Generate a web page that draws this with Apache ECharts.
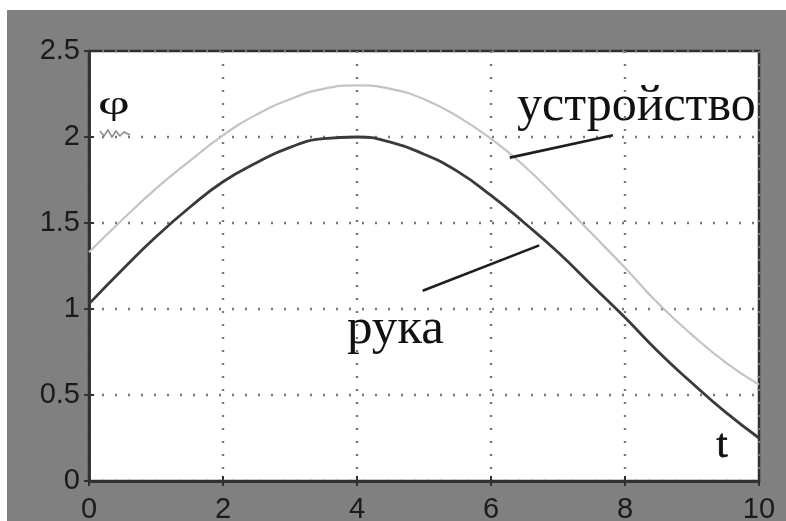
<!DOCTYPE html>
<html>
<head>
<meta charset="utf-8">
<script src="https://cdn.jsdelivr.net/npm/echarts@6/dist/echarts.min.js"></script>
<style>
  html, body { margin: 0; padding: 0; background: #ffffff; }
  #chart { width: 786px; height: 521px; }
</style>
</head>
<body>
<div id="chart"></div>
<script>
// time samples, t
const times = [0, 0.5, 1, 1.5, 2, 2.5, 3, 3.5, 4, 4.5, 5, 5.5, 6, 6.5, 7, 7.5, 8, 8.5, 9, 9.5, 10];
// arm angle, phi (рука)
const armPhi = [1.03, 1.23, 1.42, 1.59, 1.74, 1.85, 1.94, 1.99, 2.00, 1.97, 1.90, 1.80, 1.66, 1.50, 1.33, 1.14, 0.95, 0.75, 0.57, 0.40, 0.25];
// device angle, phi (устройство)
const devicePhi = [1.33, 1.52, 1.70, 1.86, 2.01, 2.13, 2.22, 2.28, 2.30, 2.28, 2.22, 2.12, 1.99, 1.83, 1.64, 1.44, 1.24, 1.03, 0.85, 0.69, 0.56];
// axis ticks
const xTicks = { min: 0, max: 10, step: 2 };
const yTicks = { min: 0, max: 2.5, step: 0.5 };
// leader lines from captions to curves, in data units
const deviceLeader = [[6.28, 1.88], [7.82, 2.01]];
const armLeader = [[4.98, 1.106], [6.72, 1.37]];

const pairs = (ys) => times.map((t, i) => [t, ys[i]]);

const tickFont = {
  fontFamily: '"Liberation Sans", Arial, sans-serif',
  fontSize: 29,
  color: '#1a1a1a'
};
const gridDots = { color: '#777777', width: 2.4, type: [2, 11] };
const serif = '"Liberation Serif", "Times New Roman", serif';

const chart = echarts.init(document.getElementById('chart'), null, { renderer: 'canvas' });

const option = {
  animation: false,
  backgroundColor: 'transparent',
  grid: {
    left: 89, top: 51, right: 27, bottom: 40,
    outerBoundsMode: 'none', containLabel: false,
    show: true, backgroundColor: '#ffffff', borderColor: '#303030', borderWidth: 2.5
  },
  xAxis: [
    {
      type: 'value', min: xTicks.min, max: xTicks.max, interval: xTicks.step,
      axisLine: { show: true, lineStyle: { color: '#303030', width: 2.5 } },
      axisTick: { show: true, inside: true, length: 5, lineStyle: { color: '#303030', width: 2 } },
      axisLabel: Object.assign({ margin: 14 }, tickFont),
      splitLine: { show: true, lineStyle: gridDots }
    },
    {
      type: 'value', position: 'top', min: xTicks.min, max: xTicks.max, interval: xTicks.step,
      axisLine: { show: true, lineStyle: { color: '#303030', width: 2.5 } },
      axisTick: { show: true, inside: true, length: 5, lineStyle: { color: '#303030', width: 2 } },
      axisLabel: { show: false }, splitLine: { show: false }
    }
  ],
  yAxis: [
    {
      type: 'value', min: yTicks.min, max: yTicks.max, interval: yTicks.step,
      axisLine: { show: true, lineStyle: { color: '#303030', width: 2.5 } },
      axisTick: { show: true, inside: true, length: 5, lineStyle: { color: '#303030', width: 2 } },
      axisLabel: Object.assign({ margin: 9 }, tickFont),
      splitLine: { show: true, lineStyle: gridDots }
    },
    {
      type: 'value', position: 'right', min: yTicks.min, max: yTicks.max, interval: yTicks.step,
      axisLine: { show: true, lineStyle: { color: '#303030', width: 2.5 } },
      axisTick: { show: true, inside: true, length: 5, lineStyle: { color: '#303030', width: 2 } },
      axisLabel: { show: false }, splitLine: { show: false }
    }
  ],
  series: [
    {
      name: 'устройство', type: 'line', smooth: true, showSymbol: false, silent: true,
      data: pairs(devicePhi),
      lineStyle: { color: '#c4c4c4', width: 2.2 },
      z: 3
    },
    {
      name: 'рука', type: 'line', smooth: true, showSymbol: false, silent: true,
      data: pairs(armPhi),
      lineStyle: { color: '#3a3a3a', width: 2.8 },
      z: 4,
      markLine: {
        silent: true, symbol: ['none', 'none'], label: { show: false },
        lineStyle: { color: '#1e1e1e', width: 2.6, type: 'solid' },
        data: [
          [{ coord: deviceLeader[0] }, { coord: deviceLeader[1] }],
          [{ coord: armLeader[0] }, { coord: armLeader[1] }]
        ]
      }
    }
  ],
  graphic: [
    { type: 'rect', z: -10, silent: true, shape: { x: 7, y: 10, width: 779, height: 511 }, style: { fill: '#808080' } },
    { type: 'text', z: 10, left: 517, top: 82, style: { text: 'устройство', font: '50px ' + serif, fill: '#111111' } },
    { type: 'text', z: 10, left: 347, top: 304, style: { text: 'рука', font: '51px ' + serif, fill: '#111111' } },
    { type: 'text', z: 10, x: 98, y: 88, scaleX: 1.45, scaleY: 0.9, style: { text: 'φ', font: '38px ' + serif, fill: '#111111' } },
    { type: 'text', z: 10, left: 716, top: 426, style: { text: 't', font: '40px ' + serif, fill: '#111111', stroke: '#111111', lineWidth: 0.8 } },
    { type: 'polyline', z: 10, silent: true, shape: { points: [[100, 131], [104, 136], [108, 130], [112, 137], [116, 131], [120, 136], [124, 132], [130, 135]] }, style: { stroke: '#8a8a8a', lineWidth: 1.5, fill: null } }
  ]
};

chart.setOption(option);
</script>
</body>
</html>
